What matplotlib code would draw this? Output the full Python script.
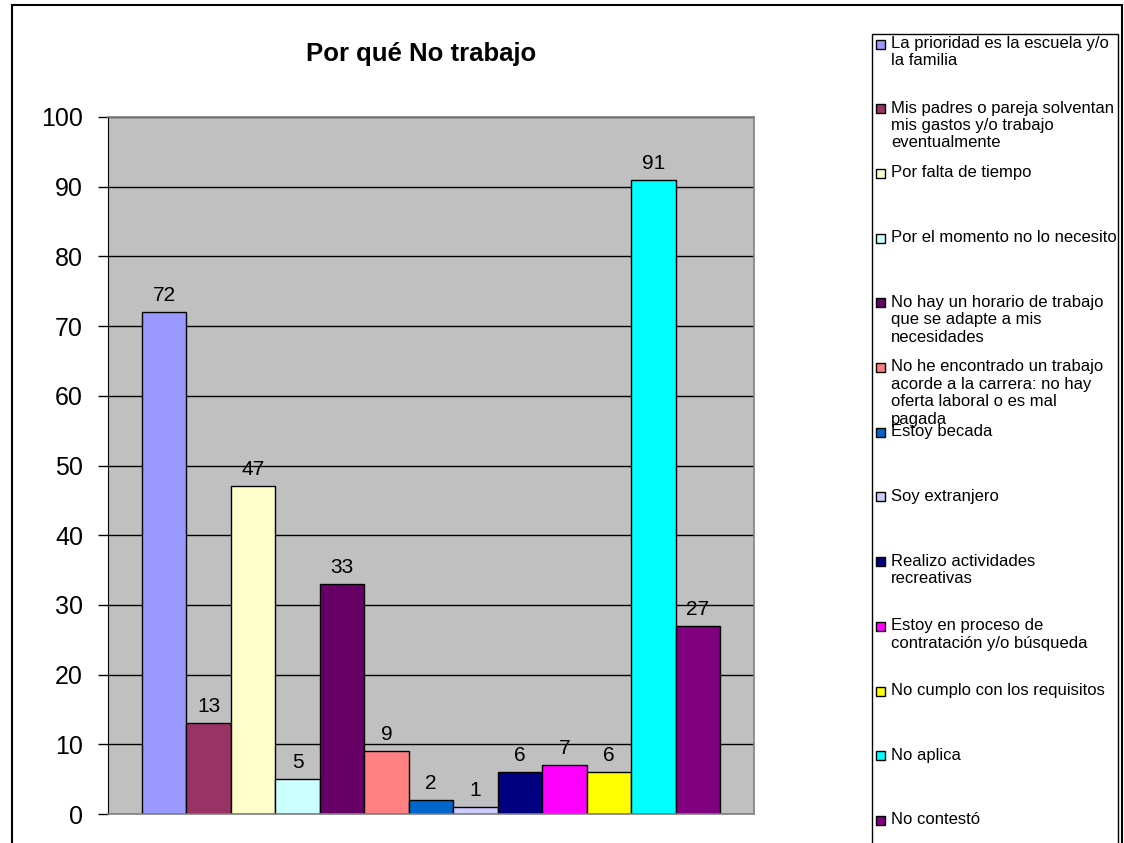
import matplotlib
matplotlib.use("Agg")
import matplotlib.pyplot as plt
from matplotlib.patches import Rectangle

plt.rcParams["font.family"] = ["Liberation Sans", "DejaVu Sans"]

title = "Por qué No trabajo"
labels = [
    "La prioridad es la escuela y/o\nla familia",
    "Mis padres o pareja solventan\nmis gastos y/o trabajo\neventualmente",
    "Por falta de tiempo",
    "Por el momento no lo necesito",
    "No hay un horario de trabajo\nque se adapte a mis\nnecesidades",
    "No he encontrado un trabajo\nacorde a la carrera: no hay\noferta laboral o es mal\npagada",
    "Estoy becada",
    "Soy extranjero",
    "Realizo actividades\nrecreativas",
    "Estoy en proceso de\ncontratación y/o búsqueda",
    "No cumplo con los requisitos",
    "No aplica",
    "No contestó",
]
values = [72, 13, 47, 5, 33, 9, 2, 1, 6, 7, 6, 91, 27]
colors = ["#9999FF", "#993366", "#FFFFCC", "#CCFFFF", "#660066", "#FF8080",
          "#0066CC", "#CCCCFF", "#000080", "#FF00FF", "#FFFF00", "#00FFFF",
          "#800080"]
yticks = list(range(0, 101, 10))

W, H = 1124, 843
fig = plt.figure(figsize=(W / 100, H / 100), dpi=100)


def fx(px):
    return px / W


def fy(py):
    return 1 - py / H


# outer chart border and legend box
fig.patches.append(Rectangle((fx(12), fy(860)), fx(1122 - 12), (860 - 5) / H,
                             transform=fig.transFigure, fill=False,
                             edgecolor="black", linewidth=1.5))
fig.patches.append(Rectangle((fx(872), fy(860)), fx(1118 - 872), (860 - 34) / H,
                             transform=fig.transFigure, fill=False,
                             edgecolor="black", linewidth=1.0))

ax = fig.add_axes([fx(108), fy(814), fx(754 - 108), (814 - 117) / H])
ax.set_facecolor("#C0C0C0")
ax.set_axisbelow(True)

n = len(values)
group = 578 / 646
w = group / n
for i, (v, c, lab) in enumerate(zip(values, colors, labels)):
    x = -group / 2 + w * (i + 0.5)
    ax.bar(x, v, width=w, color=c, edgecolor="black", linewidth=1, label=lab)
    ax.annotate(str(v), (x, v), xytext=(0, 5), textcoords="offset points",
                ha="center", va="bottom", fontsize=15)

ax.set_xlim(-0.5, 0.5)
ax.set_ylim(0, 100)
ax.set_yticks(yticks)
ax.set_xticks([])
ax.grid(axis="y", color="black", linewidth=1)
ax.tick_params(axis="y", labelsize=18, length=7, width=1, pad=11, direction="out")
ax.spines["left"].set_color("black")
for s in ["top", "right", "bottom"]:
    ax.spines[s].set_color("#808080")
    ax.spines[s].set_linewidth(1.2)

fig.text(fx(421), fy(54), title, ha="center", va="center",
         fontsize=18.5, fontweight="bold")

# legend, entries spaced evenly down the right box
y0, step = 44, 64.7
for i, (c, lab) in enumerate(zip(colors, labels)):
    yc = y0 + step * i
    fig.patches.append(Rectangle((fx(876), fy(yc + 4.5)), fx(9), 9 / H,
                                 transform=fig.transFigure, facecolor=c,
                                 edgecolor="black", linewidth=1))
    fig.text(fx(891), fy(yc - 8), lab, ha="left", va="top", fontsize=12,
             linespacing=1.2)

fig.savefig("out.png", dpi=100)
